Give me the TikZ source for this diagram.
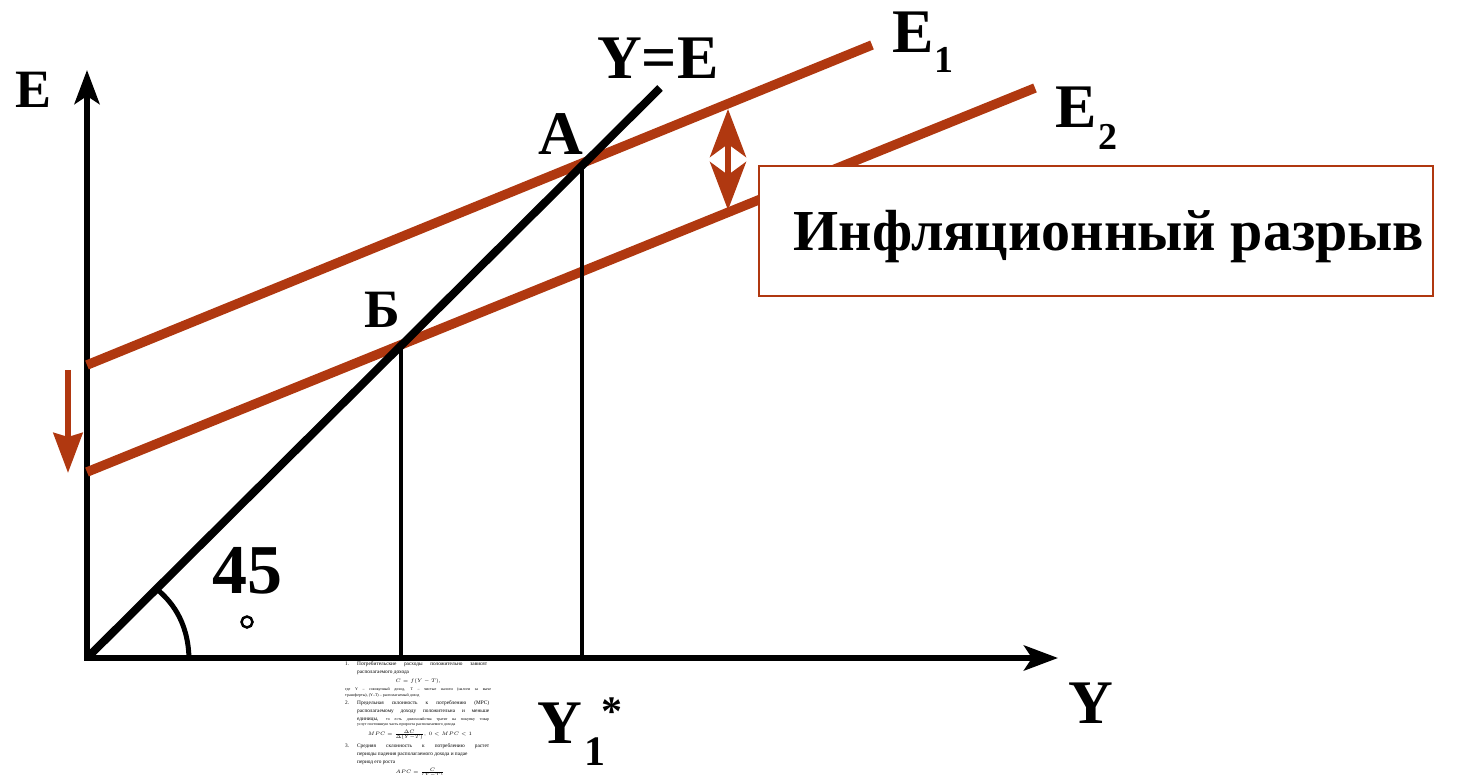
\documentclass[tikz,border=0pt]{standalone}
\usepackage{fontspec}
\setmainfont{Liberation Serif}
\usetikzlibrary{arrows.meta}
\definecolor{rb}{RGB}{176,56,16}
\begin{document}
\begin{tikzpicture}[x=1pt,y=-1pt,
  lab/.style={inner sep=0pt,anchor=base west,font=\bfseries\fontsize{62}{62}\selectfont},
  sub/.style={inner sep=0pt,anchor=base west,font=\bfseries\fontsize{38}{38}\selectfont},
  axis/.style={line width=6pt,-{Stealth[length=34pt,width=25pt,inset=8pt]}},
  eline/.style={rb,line width=9.5pt},
  vline/.style={line width=4.5pt},
  tiny/.style={inner sep=0pt,anchor=base west,font=\fontsize{5.3}{5.3}\selectfont},
  tinyc/.style={inner sep=0pt,anchor=base,font=\fontsize{5.3}{5.3}\selectfont},
  tinier/.style={inner sep=0pt,anchor=base west,font=\fontsize{4}{4}\selectfont}]
\useasboundingbox (0,0) rectangle (1470,775);

% coordinates
\coordinate (O) at (87,658);
\coordinate (ytop) at (87,70);
\coordinate (xend) at (1058,658);
\coordinate (diag) at (660,88);
\coordinate (e1s) at (87,365);
\coordinate (e1e) at (872,45);
\coordinate (e2s) at (87,472);
\coordinate (e2e) at (1035,88);
\coordinate (A) at (582,163);
\coordinate (B) at (401,345);
\coordinate (Ax) at (582,658);
\coordinate (Bx) at (401,658);

% axes
\draw[axis] (O) -- (ytop);
\draw[axis] ([xshift=-3pt]O) -- (xend);

% E lines
\draw[eline] (e1s) -- (e1e);
\draw[eline] (e2s) -- (e2e);

% 45 degree line
\draw[line width=8pt] (O) -- (diag);

% verticals
\draw[vline] (A) -- (Ax);
\draw[vline] (B) -- (Bx);

% angle arc
\draw[line width=5pt] ([shift={(45:98pt)}]O) .. controls (170,600) and (188,620) .. (189,658);

% arrows
\coordinate (dtop) at (68,370);
\coordinate (dbot) at (68,473);
\draw[rb,line width=6pt,-{Stealth[length=40pt,width=29pt,inset=4pt]}] (dtop) -- (dbot);
\coordinate (gtop) at (728,109);
\coordinate (gbot) at (728,210);
\draw[rb,line width=6pt,{Stealth[length=48pt,width=36pt,inset=13pt]}-{Stealth[length=48pt,width=36pt,inset=13pt]}] (gtop) -- (gbot);

% box
\node[draw=rb,line width=2.5pt,fill=white,minimum width=674pt,minimum height=130pt,inner sep=0pt,
  font=\bfseries\fontsize{58}{58}\selectfont] (gap) at (1096,231) {\hspace*{26pt}\raisebox{-20pt}[0pt][0pt]{Инфляционный разрыв}};

% labels
\node[lab,font=\bfseries\fontsize{54}{54}\selectfont] (lE) at (15,108) {E};
\node[lab] (lYE) at (597,79) {Y=E};
\node[lab] (lE1) at (892,53) {E};
\node[sub] (lE1s) at (934,73) {1};
\node[lab] (lE2) at (1055,128) {E};
\node[sub] (lE2s) at (1098,150) {2};
\node[lab] (lA) at (538,155) {A};
\node[lab,font=\bfseries\fontsize{54}{54}\selectfont] (lB) at (364,328) {Б};
\node[lab] (lY) at (1068,723) {Y};
\node[lab] (lY1) at (537,743) {Y};
\node[sub,font=\bfseries\fontsize{42}{42}\selectfont] (lY1s) at (584,765) {1};
\node[sub,font=\bfseries\fontsize{42}{42}\selectfont] (lY1st) at (601,725) {*};
\node[lab,font=\bfseries\fontsize{70}{70}\selectfont] (l45) at (212,593) {45};
\draw[line width=2.5pt] (247,622) circle[radius=5.5pt];

% notes block
\node[tiny] (n1) at (345,665) {1.};
\node[tiny] (n1a) at (357,665) {\makebox[130pt][s]{Потребительские расходы положительно зависят}};
\node[tiny] (n1b) at (357,673) {располагаемого дохода};
\node[tinyc] (n1c) at (418,682) {$C = f(Y-T)$,};
\node[tinier] (n1d) at (345,690) {\makebox[146pt][s]{где Y -- совокупный доход, T -- чистые налоги (налоги за выче}};
\node[tinier] (n1e) at (345,696) {трансферты), (Y--T) -- располагаемый доход};
\node[tiny] (n2) at (345,704) {2.};
\node[tiny] (n2a) at (357,704) {\makebox[132pt][s]{Предельная склонность к потреблению (MPC)}};
\node[tiny] (n2b) at (357,712) {\makebox[132pt][s]{располагаемому доходу положительна и меньше}};
\node[tiny] (n2c) at (357,720) {\makebox[132pt][s]{единицы, {\fontsize{4}{4}\selectfont то есть домохозяйства тратят на покупку товар}}};
\node[tinier] (n2d) at (357,725) {услуг постоянную часть прироста располагаемого дохода};
\node[tinyc] (n2e) at (420,735) {$MPC = \frac{\Delta C}{\Delta(Y-T)},\ 0 < MPC < 1$};
\node[tiny] (n3) at (345,747) {3.};
\node[tiny] (n3a) at (357,747) {\makebox[132pt][s]{Средняя склонность к потреблению растет}};
\node[tiny] (n3b) at (357,755) {периоды падения располагаемого дохода и падае};
\node[tiny] (n3c) at (357,763) {период его роста};
\node[tinyc] (n3d) at (420,773) {$APC = \frac{C}{(Y-T)}$};
\end{tikzpicture}
\end{document}
